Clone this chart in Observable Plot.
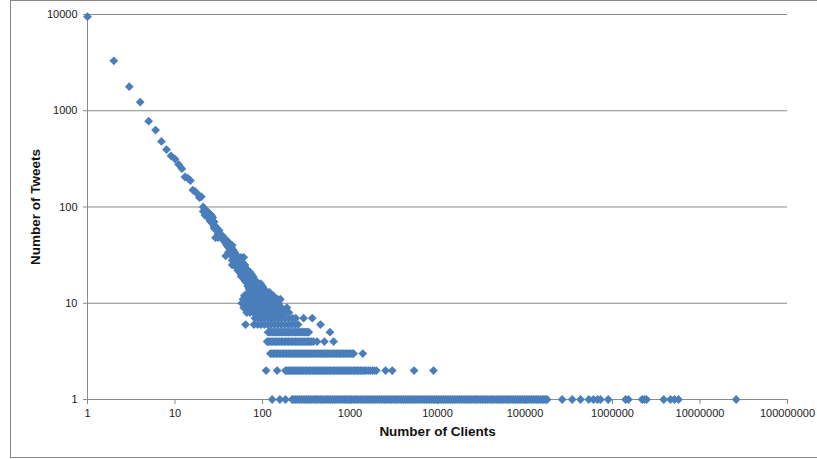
<!DOCTYPE html>
<html>
<head>
<meta charset="utf-8">
<script src="https://cdn.jsdelivr.net/npm/d3@7"></script>
<script src="https://cdn.jsdelivr.net/npm/@observablehq/plot@0.6"></script>
<style>
  body { margin: 0; background: #fff; }
  #chart { width: 817px; height: 459px; overflow: hidden; }
  #chart svg { display: block; }
  #chart [aria-label^="x-axis"] line, #chart [aria-label^="x-axis"] path,
  #chart [aria-label^="y-axis"] line, #chart [aria-label^="y-axis"] path { stroke: #898989; }
  #chart [aria-label^="x-axis"] text, #chart [aria-label^="y-axis"] text { fill: #1a1a1a; }
</style>
</head>
<body>
<div id="chart"></div>
<script>
// Decade tick positions for both log axes
const xTicks = [1, 10, 100, 1000, 10000, 100000, 1000000, 10000000, 100000000];
const yTicks = [1, 10, 100, 1000, 10000];

// Head of the distribution: one client count per tweet count
const headX = [1, 2, 3, 4, 5, 6, 7, 8, 9, 10, 11, 12, 13, 14, 15, 16, 17, 18, 19, 20];
const headY = [9500, 3300, 1780, 1230, 780, 630, 480, 395, 340, 315, 277, 250, 205, 200, 188, 150, 145, 137, 125, 128];

// Scattered band between 11 and 100 tweets: [tweets, client counts]
const band = [
  [100, [21]], [95, [22]], [90, [21, 23]], [88, [22, 24]], [85, [23, 25]],
  [82, [22, 24, 26]], [78, [24, 27]], [75, [25]], [72, [25, 27]], [70, [26, 28]],
  [67, [27]], [63, [28, 29]], [60, [28, 30]], [57, [30, 32]], [53, [31]],
  [50, [33, 35]], [48, [29, 31, 36]], [46, [35, 38]], [44, [37, 40]], [42, [38, 41]],
  [40, [39, 42, 45]], [38, [41, 44]], [36, [43, 46]], [34, [41, 45, 48]], [32, [44, 47, 50]],
  [31, [38, 49]], [30, [46, 52, 57, 61]], [29, [48, 54]], [28, [45, 50, 56]], [27, [47, 53, 58]],
  [26, [49, 55, 60]], [25, [45, 51, 57, 63]], [24, [50, 55, 62]], [23, [52, 58, 65]],
  [22, [52, 56, 61, 67]], [21, [55, 60, 66, 72]], [20, [57, 62, 68, 75]],
  [19, [57, 60, 65, 71, 78]], [18, [61, 67, 73, 80]], [17, [63, 66, 70, 77, 84]],
  [16, [67, 73, 79, 86, 95]], [15, [68, 72, 78, 85, 92, 100]], [14, [70, 76, 82, 88, 96, 105]],
  [13, [69, 74, 80, 87, 94, 102, 111, 120]],
  [12, [62, 72, 78, 85, 92, 100, 110, 120, 133]],
  [11, [60, 65, 75, 82, 90, 99, 108, 118, 133, 148, 160]]
];

// Rows of client counts at small tweet counts
const tens = [58, 63, 70, 76, 82, 90, 98, 106, 116, 128, 140, 153];
const nines = [61, 67, 74, 80, 88, 95, 103, 112, 122, 135, 150, 165, 190];
const eights = [66, 72, 79, 86, 94, 102, 111, 121, 132, 145, 160, 178, 200];
const sevens = [82, 90, 98, 107, 117, 128, 140, 153, 167, 182, 200, 220, 240, 295, 370];
const sixes = [64, 80, 88, 96, 105, 115, 125, 137, 150, 164, 180, 197, 215, 235, 255, 460];
const fives = [116, 120, 125, 130, 135, 140, 146, 152, 158, 164, 170, 177, 184, 191, 198, 206, 214, 223, 232,
  241, 250, 260, 270, 281, 292, 303, 315, 326, 338, 590];
const fours = [113, 117, 122, 126, 131, 136, 141, 146, 152, 158, 164, 170, 177, 184, 191, 198, 206, 214, 222,
  231, 240, 249, 259, 269, 280, 291, 302, 314, 326, 339, 352, 367, 383, 420, 510, 650];
const threes = [123, 128, 133, 138, 144, 149, 155, 161, 168, 174, 181, 188, 196, 203, 211, 219, 228, 237, 246,
  256, 266, 276, 287, 298, 310, 322, 335, 348, 362, 376, 391, 406, 422, 439, 456, 474, 492, 511, 531, 552, 574,
  597, 620, 645, 670, 696, 723, 752, 781, 812, 843, 876, 911, 947, 984, 1020, 1060, 1100, 1400];
const twos = [110, 147, 183, 190, 197, 205, 212, 220, 228, 237, 246, 255, 265, 275, 285, 296, 307, 319, 331, 343,
  356, 370, 384, 398, 413, 429, 445, 462, 480, 498, 517, 537, 557, 578, 600, 623, 646, 671, 696, 722, 750, 779,
  808, 839, 870, 903, 937, 973, 1010, 1050, 1090, 1130, 1170, 1215, 1260, 1310, 1360, 1415, 1470, 1540, 1620,
  1700, 1800, 1900, 2000, 2550, 3040, 5400, 9000];
const ones = [129, 158, 183, 218, 228, 240, 252, 265, 278, 290, 305, 320, 335, 350, 367, 385, 402, 420, 440, 460,
  480, 500, 525, 550, 575, 600, 630, 660, 690, 720, 755, 790, 830, 870, 910, 950, 995, 1040, 1090, 1140, 1195,
  1250, 1310, 1370, 1435, 1500, 1575, 1650, 1725, 1800, 1890, 1980, 2075, 2170, 2275, 2380, 2490, 2600, 2725,
  2850, 2985, 3120, 3270, 3420, 3585, 3750, 3925, 4100, 4300, 4500, 4725, 4950, 5175, 5400, 5650, 5900, 6200,
  6500, 6800, 7100, 7450, 7800, 8150, 8500, 8900, 9300, 9750, 10200, 10700, 11200, 11750, 12300, 12900, 13500,
  14150, 14800, 15500, 16200, 17000, 17800, 18650, 19500, 20450, 21400, 22450, 23500, 24650, 25800, 27050,
  28300, 29650, 31000, 32500, 34000, 35650, 37300, 39150, 41000, 43000, 45000, 47150, 49300, 51650, 54000,
  56650, 59300, 62150, 65000, 68150, 71300, 74750, 78200, 82000, 85800, 89900, 94000, 98500, 103000, 108000,
  113000, 118500, 124000, 130000, 136000, 143000, 150000, 157000, 164000, 171500, 179000, 266000, 346000,
  431000, 536000, 607000, 674000, 729000, 893000, 1410000, 1520000, 2180000, 2320000, 2450000, 3850000,
  4600000, 5100000, 5680000, 25900000];

// Assemble one table of {clients, tweets}
const points = [];
headX.forEach((x, i) => points.push({clients: x, tweets: headY[i]}));
band.forEach(([y, xs]) => xs.forEach(x => points.push({clients: x, tweets: y})));
[[10, tens], [9, nines], [8, eights], [7, sevens], [6, sixes], [5, fives], [4, fours], [3, threes], [2, twos], [1, ones]]
  .forEach(([y, xs]) => xs.forEach(x => points.push({clients: x, tweets: y})));

// Square diamond marker (rotated square)
const diamond = {
  draw(context, size) {
    const r = Math.sqrt(size / Math.PI);
    context.moveTo(0, -r);
    context.lineTo(r, 0);
    context.lineTo(0, r);
    context.lineTo(-r, 0);
    context.closePath();
  }
};

const grid = "#898989";

const chart = Plot.plot({
  width: 817,
  height: 459,
  marginLeft: 87,
  marginRight: 30,
  marginTop: 14,
  marginBottom: 60,
  style: {fontFamily: "Liberation Sans, Arial, sans-serif", fontSize: "11px", color: "#1a1a1a", background: "#fff"},
  x: {type: "log", domain: [1, 1e8], ticks: xTicks, tickFormat: d3.format("d"), tickSize: 5, tickPadding: 5, label: null},
  y: {type: "log", domain: [1, 10000], ticks: yTicks, tickFormat: d3.format("d"), tickSize: 4, tickPadding: 6, label: null},
  marks: [
    Plot.ruleY(yTicks, {stroke: grid, strokeWidth: 1}),
    Plot.ruleX([1], {stroke: grid, strokeWidth: 1}),
    Plot.dot(points, {x: "clients", y: "tweets", symbol: diamond, r: 4.4, fill: "#4A7EBB", stroke: "none"}),
    Plot.text(["Number of Clients"], {frameAnchor: "bottom", dy: 36, fontSize: 13.5, fontWeight: "bold", fill: "#111", textAnchor: "middle"}),
    Plot.text(["Number of Tweets"], {frameAnchor: "left", dx: -52, rotate: -90, fontSize: 13.5, fontWeight: "bold", fill: "#111", textAnchor: "middle"})
  ]
});

// Chart-area border
d3.select(chart).append("rect")
  .attr("x", 10.5).attr("y", 0.5).attr("width", 900).attr("height", 457)
  .attr("fill", "none").attr("stroke", grid);

document.getElementById("chart").appendChild(chart);
</script>
</body>
</html>
